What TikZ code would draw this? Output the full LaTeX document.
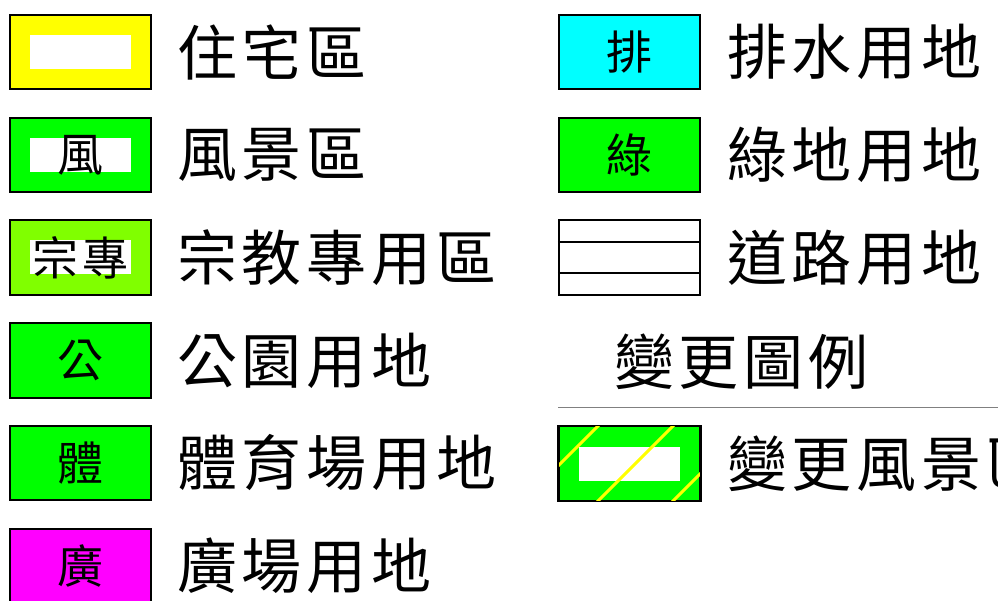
\documentclass[tikz,border=0pt]{standalone}
\usepackage{fontspec}
\newfontfamily\kai[LetterSpace=8]{Noto Sans CJK TC}
\usetikzlibrary{calc}
\definecolor{zhuyellow}{RGB}{255,255,0}
\definecolor{fenggreen}{RGB}{0,255,0}
\definecolor{zonggreen}{RGB}{128,255,0}
\definecolor{paicyan}{RGB}{0,255,255}
\definecolor{guangpink}{RGB}{255,0,255}

\begin{document}
\begin{tikzpicture}[x=1pt,y=-1pt,
  legbox/.style={draw=black,line width=1.6pt,minimum width=141.5pt,minimum height=74.5pt,inner sep=0pt},
  whitebar/.style={fill=#1,minimum width=101pt,minimum height=34pt,inner sep=0pt},
  whitebar/.default=white,
  boxtext/.style={inner sep=0pt,font=\kai\fontsize{46}{46}\selectfont},
  legtext/.style={anchor=west,inner sep=0pt,font=\kai\fontsize{60}{60}\selectfont}]
\useasboundingbox (0,0) rectangle (998,601);
% left column
\foreach \n/\y/\c/\w/\t/\l in {zhu/52/zhuyellow/white//住宅區,
  feng/155/fenggreen/white/風/風景區,
  zong/257.5/zonggreen/white/宗專/宗教專用區,
  gong/360.5/fenggreen/fenggreen/公/公園用地,
  ti/463/fenggreen/fenggreen/體/體育場用地,
  guang/566/guangpink/guangpink/廣/廣場用地}
{
  \node[legbox,fill=\c] (\n) at (80.5,\y) {};
  \node[whitebar=\w] at (\n) {};
  \node[boxtext] at (\n) {\t};
  \node[legtext] (\n-l) at (177,\y) {\l};
}
% right column
\foreach \n/\y/\c/\t/\l in {pai/52/paicyan/排/排水用地,
  lv/155/fenggreen/綠/綠地用地}
{
  \node[legbox,fill=\c] (\n) at (629.5,\y) {};
  \node[boxtext] at (\n) {\t};
  \node[legtext] (\n-l) at (727,\y) {\l};
}
\node[legbox,fill=white] (dao) at (629.5,257.5) {};
\foreach \f in {0.3,0.7}
  \draw[line width=1.6pt] ($(dao.north west)!\f!(dao.south west)$) -- ($(dao.north east)!\f!(dao.south east)$);
\node[legtext] (dao-l) at (727,257.5) {道路用地};
% change legend
\node[legtext] (title) at (614,362) {變更圖例};
\coordinate (sepL) at (558,407);
\coordinate (sepR) at (998,407);
\draw[gray,line width=1pt] (sepL) -- (sepR);
\node[legbox,fill=fenggreen] (chg) at (629.5,463.5) {};
\node[whitebar] at (chg) {};
\begin{scope}
  \clip (chg.south west) rectangle (chg.north east);
  \foreach \x in {522,597,672}
    \draw[zhuyellow,line width=3pt] (\x,502) -- ++(77,-77);
\end{scope}
\draw[line width=1.6pt] (chg.south west) rectangle (chg.north east);
\node[legtext] (chg-l) at (727,463.5) {變更風景區};
\end{tikzpicture}
\end{document}
